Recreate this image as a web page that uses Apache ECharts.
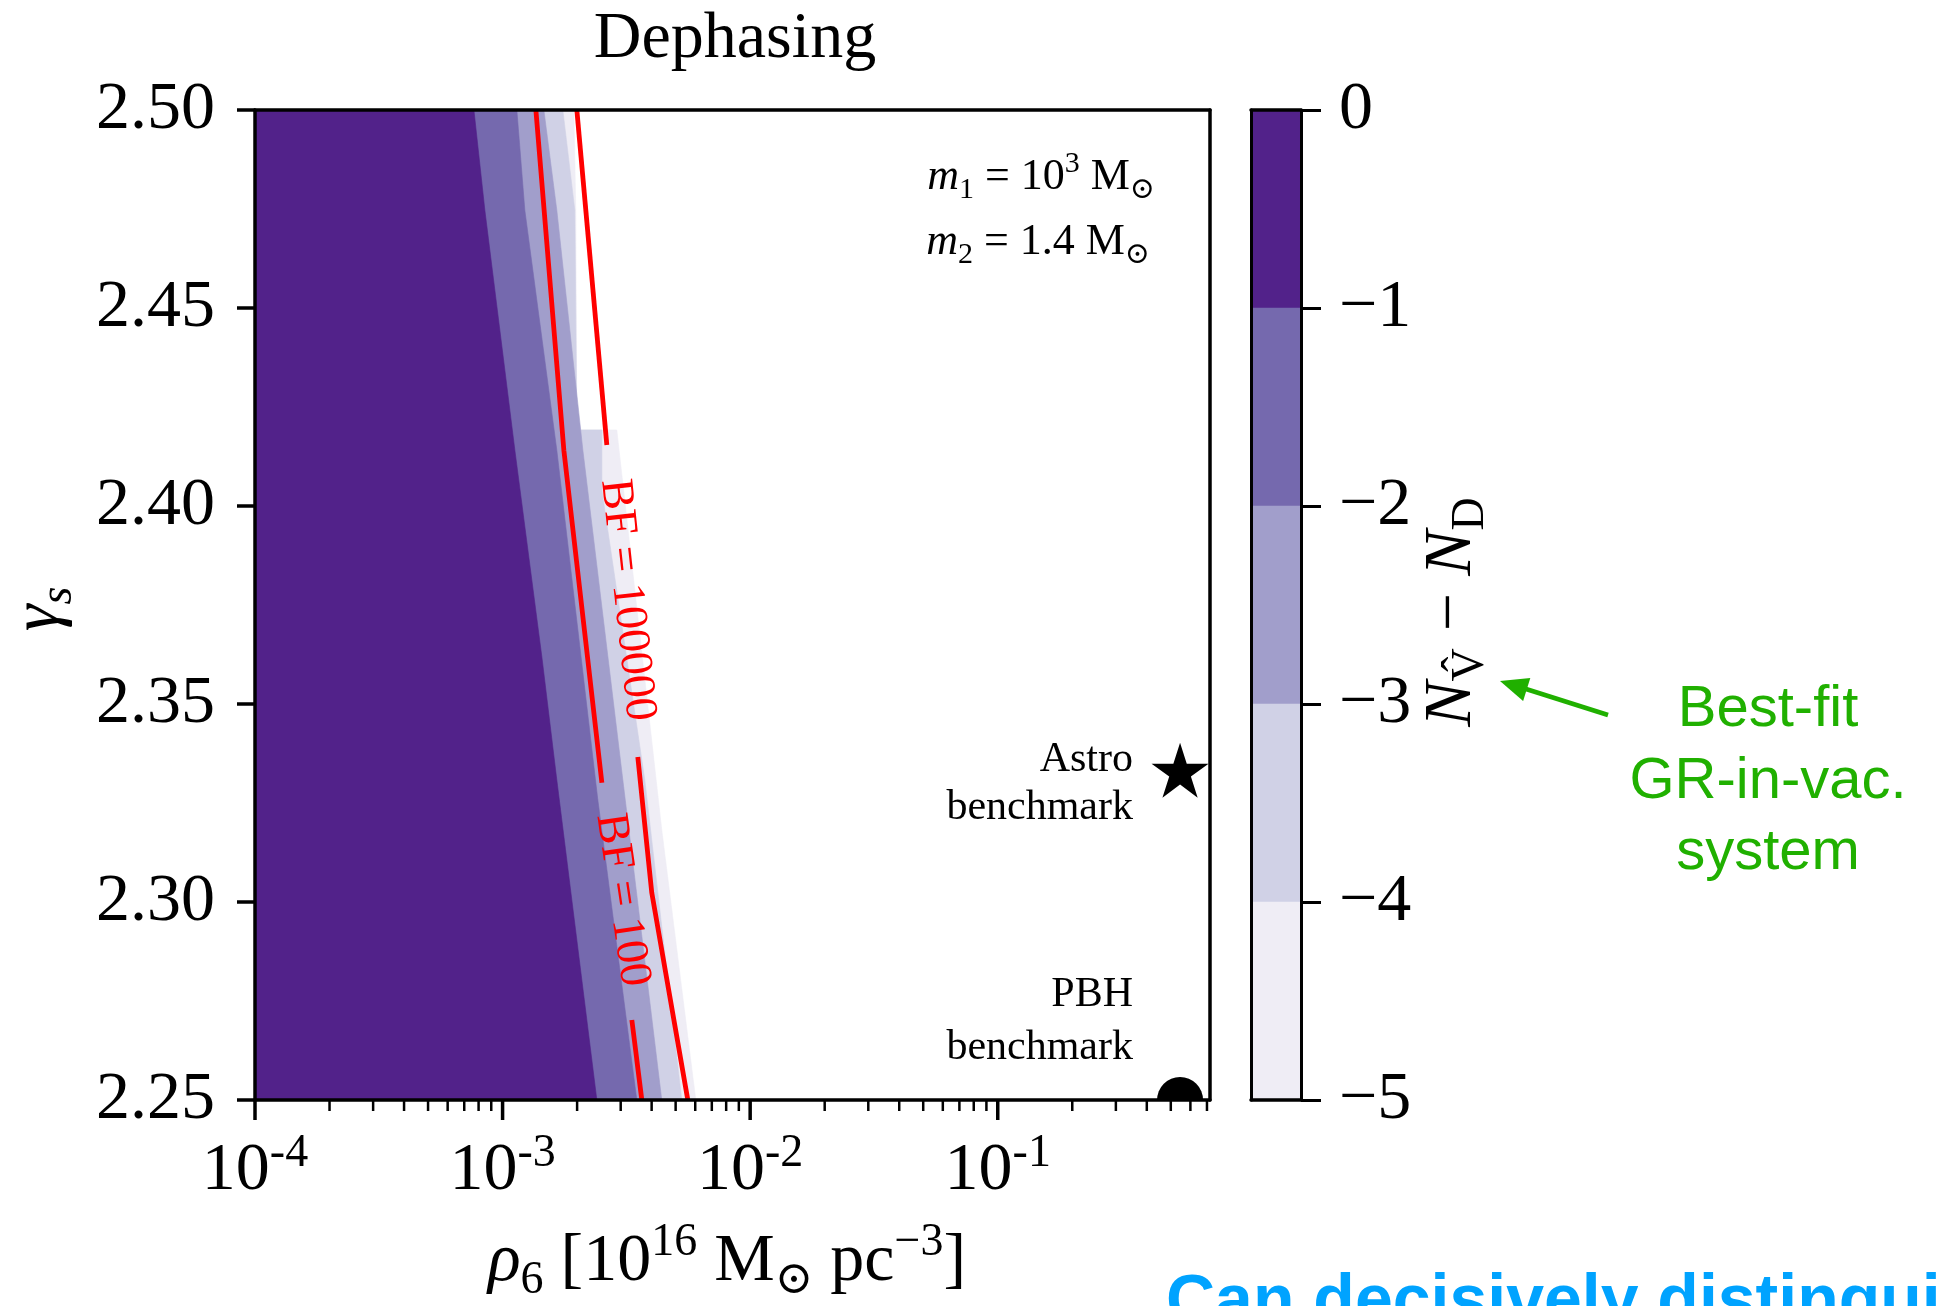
<!DOCTYPE html>
<html>
<head>
<meta charset="utf-8">
<title>Dephasing</title>
<script src="https://cdn.jsdelivr.net/npm/echarts@6/dist/echarts.min.js"></script>
<style>
  html, body { margin: 0; padding: 0; background: #fff; }
  #main { width: 1939px; height: 1306px; }
</style>
</head>
<body>
<div id="main"></div>
<script>
// axis ranges
var rhoMin = 1e-4, rhoMax = 0.72;
var gammaMin = 2.25, gammaMax = 2.5;

// filled contour edges of N_V - N_D, points [rho6, gamma_s] from top to bottom
var edgeMinus1 = [[7.66e-4, 2.5], [8.48e-4, 2.4747], [1.121e-3, 2.4141], [1.441e-3, 2.3619], [1.656e-3, 2.3308], [2.403e-3, 2.25]];
var edgeMinus2 = [[1.142e-3, 2.5], [1.230e-3, 2.4747], [1.656e-3, 2.4141], [2.425e-3, 2.3258], [3.485e-3, 2.25]];
var edgeMinus3 = [[1.468e-3, 2.5], [1.656e-3, 2.4747], [2.110e-3, 2.4141], [3.060e-3, 2.3308], [4.395e-3, 2.25]];
var edgeMinus4 = [[1.751e-3, 2.5], [1.958e-3, 2.4747], [1.995e-3, 2.4192], [2.518e-3, 2.4192], [2.518e-3, 2.4040], [3.754e-3, 2.3308], [5.295e-3, 2.25]];
var edgeMinus5 = [[1.940e-3, 2.5], [1.976e-3, 2.4747], [1.995e-3, 2.4192], [2.893e-3, 2.4192], [4.395e-3, 2.3182], [6.03e-3, 2.25]];

// Bayes factor contours (split where the inline labels sit)
var bf100Upper = [[1.363e-3, 2.5], [1.768e-3, 2.4141], [2.518e-3, 2.3301]];
var bf100Lower = [[3.327e-3, 2.2702], [3.651e-3, 2.25]];
var bf1e5Upper = [[1.995e-3, 2.5], [2.637e-3, 2.4154]];
var bf1e5Lower = [[3.517e-3, 2.3366], [4.006e-3, 2.3023], [5.60e-3, 2.25]];

// benchmarks
var astroBenchmark = [0.545, 2.3333];
var pbhBenchmark = [0.545, 2.25];

// colorbar levels
var cbLevels = [0, -1, -2, -3, -4, -5];

// log axis ticks
var xTickValues = [
  1e-4, 2e-4, 3e-4, 4e-4, 5e-4, 6e-4, 7e-4, 8e-4, 9e-4,
  1e-3, 2e-3, 3e-3, 4e-3, 5e-3, 6e-3, 7e-3, 8e-3, 9e-3,
  1e-2, 2e-2, 3e-2, 4e-2, 5e-2, 6e-2, 7e-2, 8e-2, 9e-2,
  1e-1, 2e-1, 3e-1, 4e-1, 5e-1, 6e-1, 7e-1
];

var bandColors = ['#52228a', '#7569ae', '#a19ecb', '#d0d1e6', '#efedf5'];
var SERIF = '"Liberation Serif", "DejaVu Serif", serif';
var SANS = '"Liberation Sans", Arial, sans-serif';
var GREEN = '#20b000';

function mathRich(size, subSize, lh) {
  return {
    n: { fontSize: size, fontFamily: SERIF, color: '#000', fill: '#000', lineHeight: lh },
    i: { fontSize: size, fontFamily: SERIF, fontStyle: 'italic', color: '#000', fill: '#000', lineHeight: lh },
    sb: { fontSize: subSize, fontFamily: SERIF, color: '#000', fill: '#000', lineHeight: subSize, verticalAlign: 'bottom' },
    si: { fontSize: subSize, fontFamily: SERIF, fontStyle: 'italic', color: '#000', fill: '#000', lineHeight: subSize, verticalAlign: 'bottom' },
    sp: { fontSize: subSize, fontFamily: SERIF, color: '#000', fill: '#000', lineHeight: subSize, verticalAlign: 'top' }
  };
}

function bandSeries(edge, color) {
  return {
    type: 'custom',
    xAxisIndex: 0, yAxisIndex: 0,
    clip: true, silent: true, z: 2,
    data: edge,
    renderItem: function (params, api) {
      if (params.dataIndex !== 0) return null;
      var pts = [api.coord([rhoMin, gammaMax])];
      edge.forEach(function (p) { pts.push(api.coord(p)); });
      pts.push(api.coord([rhoMin, gammaMin]));
      return { type: 'polygon', shape: { points: pts }, style: { fill: color, stroke: color, lineWidth: 0.6 } };
    }
  };
}

function bfLine(data) {
  return {
    type: 'line', xAxisIndex: 0, yAxisIndex: 0, data: data,
    symbol: 'none', showSymbol: false, silent: true, z: 4,
    lineStyle: { color: '#ff0000', width: 4.8 }
  };
}

var starPath = 'path://M50 0 L61.17 34.63 L97.55 34.55 L68.07 55.87 L79.39 90.45 L50 69 L20.61 90.45 L31.93 55.87 L2.45 34.55 L38.83 34.63 Z';

var axisLine = { show: true, onZero: false, lineStyle: { color: '#000', width: 3.5 } };
var bareAxis = {
  axisLine: axisLine, axisTick: { show: false }, axisLabel: { show: false },
  splitLine: { show: false }, z: 10
};

var chart = echarts.init(document.getElementById('main'));

chart.setOption({
  animation: false,
  backgroundColor: '#fff',
  grid: [
    { left: 255, top: 110, width: 955, height: 990, containLabel: false, outerBoundsMode: 'none' },
    { left: 1251, top: 110, width: 50, height: 990, containLabel: false, outerBoundsMode: 'none' }
  ],
  xAxis: [
    {
      gridIndex: 0, type: 'log', logBase: 10, min: rhoMin, max: rhoMax, position: 'bottom', z: 10,
      axisLine: axisLine, axisTick: { show: false }, splitLine: { show: false }, minorTick: { show: false },
      axisLabel: {
        margin: 31, showMaxLabel: false, showMinLabel: true,
        formatter: function (v) {
          var e = Math.round(Math.log(v) / Math.LN10);
          return '{b|10}{s|' + e + '}';
        },
        rich: {
          b: { fontSize: 68, fontFamily: SERIF, color: '#000', lineHeight: 80 },
          s: { fontSize: 46, fontFamily: SERIF, color: '#000', lineHeight: 46, verticalAlign: 'top' }
        }
      }
    },
    Object.assign({ gridIndex: 0, type: 'value', min: 0, max: 1, position: 'top' }, bareAxis),
    Object.assign({ gridIndex: 1, type: 'value', min: 0, max: 1, position: 'bottom' }, bareAxis),
    Object.assign({ gridIndex: 1, type: 'value', min: 0, max: 1, position: 'top' }, bareAxis)
  ],
  yAxis: [
    {
      gridIndex: 0, type: 'value', min: gammaMin, max: gammaMax, interval: 0.05, position: 'left', z: 10,
      axisLine: axisLine, splitLine: { show: false },
      axisTick: { show: true, inside: false, length: 18, lineStyle: { color: '#000', width: 3.5 } },
      axisLabel: {
        margin: 40, fontSize: 68, fontFamily: SERIF, color: '#000',
        formatter: function (v) { return v.toFixed(2); }
      }
    },
    Object.assign({ gridIndex: 0, type: 'value', min: 0, max: 1, position: 'right' }, bareAxis),
    {
      gridIndex: 1, type: 'value', min: -5, max: 0, interval: 1, position: 'right', z: 10,
      axisLine: { show: true, onZero: false, lineStyle: { color: '#000', width: 3 } },
      splitLine: { show: false },
      axisTick: { show: true, inside: false, length: 20, lineStyle: { color: '#000', width: 3 } },
      axisLabel: {
        margin: 38, fontSize: 68, fontFamily: SERIF, color: '#000',
        formatter: function (v) { return v === 0 ? '0' : '\u2212' + Math.abs(v); }
      }
    },
    Object.assign({ gridIndex: 1, type: 'value', min: -5, max: 0, position: 'left' }, bareAxis, {
      axisLine: { show: true, onZero: false, lineStyle: { color: '#000', width: 3 } }
    })
  ],
  series: [
    bandSeries(edgeMinus5, bandColors[4]),
    bandSeries(edgeMinus4, bandColors[3]),
    bandSeries(edgeMinus3, bandColors[2]),
    bandSeries(edgeMinus2, bandColors[1]),
    bandSeries(edgeMinus1, bandColors[0]),
    bfLine(bf100Upper),
    bfLine(bf100Lower),
    bfLine(bf1e5Upper),
    bfLine(bf1e5Lower),
    {
      type: 'scatter', xAxisIndex: 0, yAxisIndex: 0, data: [astroBenchmark],
      symbol: starPath, symbolSize: [57, 55], clip: false, silent: true, z: 6,
      itemStyle: { color: '#000', opacity: 1 }
    },
    {
      // PBH benchmark sits on the lower edge, so only its upper half shows
      type: 'custom', xAxisIndex: 0, yAxisIndex: 0, data: [pbhBenchmark],
      clip: true, silent: true, z: 6,
      renderItem: function (params, api) {
        var p = api.coord([api.value(0), api.value(1)]);
        return { type: 'circle', shape: { cx: p[0], cy: p[1], r: 23 }, style: { fill: '#000' } };
      }
    },
    {
      // log-axis major and minor ticks
      type: 'custom', xAxisIndex: 0, yAxisIndex: 0, clip: false, silent: true, z: 12,
      data: xTickValues.map(function (v) { return [v, gammaMin]; }),
      renderItem: function (params, api) {
        var v = api.value(0);
        var p = api.coord([v, gammaMin]);
        var e = Math.log(v) / Math.LN10;
        var major = Math.abs(e - Math.round(e)) < 1e-6;
        return {
          type: 'line',
          shape: { x1: p[0], y1: p[1], x2: p[0], y2: p[1] + (major ? 20 : 11) },
          style: { stroke: '#000', lineWidth: major ? 3.5 : 2.5 }
        };
      }
    },
    {
      // colorbar blocks
      type: 'custom', xAxisIndex: 2, yAxisIndex: 2, clip: true, silent: true, z: 2,
      data: cbLevels.slice(0, 5).map(function (hi, k) { return [0.5, hi, cbLevels[k + 1]]; }),
      renderItem: function (params, api) {
        var a = api.coord([0, api.value(1)]);
        var b = api.coord([1, api.value(2)]);
        return {
          type: 'rect',
          shape: { x: a[0], y: a[1], width: b[0] - a[0], height: b[1] - a[1] },
          style: { fill: bandColors[params.dataIndex], stroke: bandColors[params.dataIndex], lineWidth: 0.5 }
        };
      }
    }
  ],
  graphic: [
    { type: 'text', x: 735, y: 40, z: 100,
      style: { text: 'Dephasing', fontSize: 66, fontFamily: SERIF, fill: '#000', align: 'center', verticalAlign: 'middle' } },
    { type: 'text', x: 1155, y: 177, z: 100,
      style: { text: '{i|m}{sb|1}{n| = 10}{sp|3}{n| M}{sb|\u2299}', rich: mathRich(44, 30, 56), align: 'right', verticalAlign: 'middle' } },
    { type: 'text', x: 1150, y: 242, z: 100,
      style: { text: '{i|m}{sb|2}{n| = 1.4 M}{sb|\u2299}', rich: mathRich(44, 30, 56), align: 'right', verticalAlign: 'middle' } },
    { type: 'text', x: 1133, y: 760, z: 100,
      style: { text: 'Astro', fontSize: 42, fontFamily: SERIF, fill: '#000', align: 'right', verticalAlign: 'middle' } },
    { type: 'text', x: 1133, y: 808, z: 100,
      style: { text: 'benchmark', fontSize: 42, fontFamily: SERIF, fill: '#000', align: 'right', verticalAlign: 'middle' } },
    { type: 'text', x: 1133, y: 995, z: 100,
      style: { text: 'PBH', fontSize: 42, fontFamily: SERIF, fill: '#000', align: 'right', verticalAlign: 'middle' } },
    { type: 'text', x: 1133, y: 1048, z: 100,
      style: { text: 'benchmark', fontSize: 42, fontFamily: SERIF, fill: '#000', align: 'right', verticalAlign: 'middle' } },
    { type: 'text', x: 627, y: 600, rotation: -1.463, z: 100,
      style: { text: 'BF = 100000', fontSize: 46, fontFamily: SERIF, fill: '#ff0000', align: 'center', verticalAlign: 'middle' } },
    { type: 'text', x: 622, y: 900, rotation: -1.424, z: 100,
      style: { text: 'BF = 100', fontSize: 46, fontFamily: SERIF, fill: '#ff0000', align: 'center', verticalAlign: 'middle' } },
    // axis titles
    { type: 'text', x: 40, y: 609, rotation: Math.PI / 2, z: 100,
      style: { text: '{i|\u03b3}{si|s}', rich: mathRich(68, 46, 84), align: 'center', verticalAlign: 'middle' } },
    { type: 'text', x: 727, y: 1262, z: 100,
      style: { text: '{i|\u03c1}{sb|6}{n| [10}{sp|16}{n| M}{sb|\u2299}{n| pc}{sp|\u22123}{n|]}', rich: mathRich(68, 46, 84), align: 'center', verticalAlign: 'middle' } },
    { type: 'text', x: 1452, y: 612, rotation: Math.PI / 2, z: 100,
      style: { text: '{i|N}{sb|V\u0302}{n| \u2212 }{i|N}{sb|D}', rich: mathRich(68, 46, 84), align: 'center', verticalAlign: 'middle' } },
    // green annotation
    { type: 'text', x: 1768, y: 710, z: 100,
      style: { text: 'Best-fit', fontSize: 58, fontFamily: SANS, fill: GREEN, align: 'center', verticalAlign: 'middle' } },
    { type: 'text', x: 1768, y: 782, z: 100,
      style: { text: 'GR-in-vac.', fontSize: 58, fontFamily: SANS, fill: GREEN, align: 'center', verticalAlign: 'middle' } },
    { type: 'text', x: 1768, y: 853, z: 100,
      style: { text: 'system', fontSize: 58, fontFamily: SANS, fill: GREEN, align: 'center', verticalAlign: 'middle' } },
    { type: 'line', z: 100, shape: { x1: 1608, y1: 715, x2: 1526, y2: 689 },
      style: { stroke: GREEN, lineWidth: 4.5 } },
    { type: 'polygon', z: 100, shape: { points: [[1500, 681], [1530.3, 677.9], [1523.1, 700.9]] },
      style: { fill: GREEN } },
    // cut-off slide text
    { type: 'text', x: 1166, y: 1303, z: 100,
      style: { text: 'Can decisively distinguish', fontSize: 68, fontWeight: 'bold', fontFamily: SANS, fill: '#00a3ff', align: 'left', verticalAlign: 'middle' } }
  ]
});
</script>
</body>
</html>
